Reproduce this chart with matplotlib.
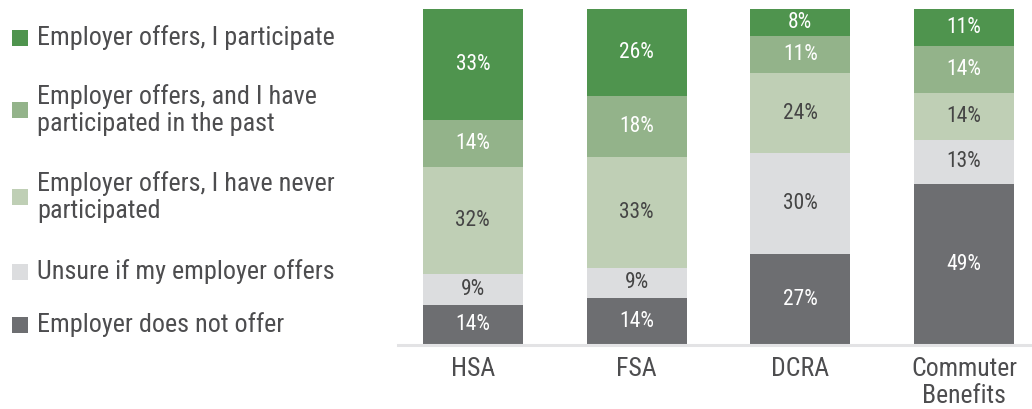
import numpy as np
import matplotlib.pyplot as plt
from matplotlib.patches import Rectangle

plt.rcParams['font.family'] = ['Roboto Condensed', 'Liberation Sans Narrow', 'Roboto', 'DejaVu Sans']

# datos del grafico
categorias = ["HSA", "FSA", "DCRA", "Commuter\nBenefits"]
series = ["Employer offers, I participate",
          "Employer offers, and I have\nparticipated in the past",
          "Employer offers, I have never\nparticipated",
          "Unsure if my employer offers",
          "Employer does not offer"]
# valores de arriba hacia abajo en cada barra (%)
participa = [33, 26, 8, 11]
participo_antes = [14, 18, 11, 14]
nunca = [32, 33, 24, 14]
no_seguro = [9, 9, 30, 13]
no_ofrece = [14, 14, 27, 49]

colores = ["#4f944e", "#93b38a", "#bfcfb5", "#dcdddf", "#6d6e71"]
color_texto = ["white", "white", "#454545", "#454545", "white"]

valores = [participa, participo_antes, nunca, no_seguro, no_ofrece]

W, H = 1032, 409
fig = plt.figure(figsize=(W/100, H/100), dpi=100)
ax = fig.add_axes([398/W, 64/H, 634/W, 336/H])

#########################################################
#####   Barras apiladas desde arriba #####
#########################################################
x = np.arange(len(categorias))
ancho = 0.61
techo = np.full(len(categorias), 100.0)
for vals, col, ctxt in zip(valores, colores, color_texto):
    vals = np.array(vals, dtype=float)
    base = techo - vals
    ax.bar(x, vals, bottom=base, width=ancho, color=col, linewidth=0)
    for xi, b, t, v in zip(x, base, techo, vals):
        yc = (max(b, 0) + t) / 2
        ax.text(xi, yc, f"{int(v)}%", ha="center", va="center",
                fontsize=15.5, color=ctxt)
    techo = base

ax.set_ylim(0, 100)
ax.set_xlim(-0.457, 3.415)
ax.axhline(0, color="#e3e3e5", linewidth=2.2, clip_on=False, zorder=3)
for s in ax.spines.values():
    s.set_visible(False)
ax.set_yticks([])
ax.set_xticks(x)
ax.set_xticklabels(categorias, fontsize=18.5, color="#4d4d4f", linespacing=1.15)
ax.tick_params(axis="x", length=0, pad=9)

#########################################################
#####   Leyenda a la izquierda #####
#########################################################
y_leyenda = [38, 110, 197, 272, 325]   # centro de cada entrada, px desde arriba
for serie, col, yl in zip(series, colores, y_leyenda):
    fig.patches.append(Rectangle((12/W, 1 - (yl + 8)/H), 16/W, 16/H,
                                 transform=fig.transFigure, facecolor=col,
                                 edgecolor="none"))
    fig.text(37/W, 1 - yl/H, serie, ha="left", va="center", fontsize=18.8,
             color="#4d4d4f", linespacing=1.12)

plt.savefig("out.png", dpi=100)
